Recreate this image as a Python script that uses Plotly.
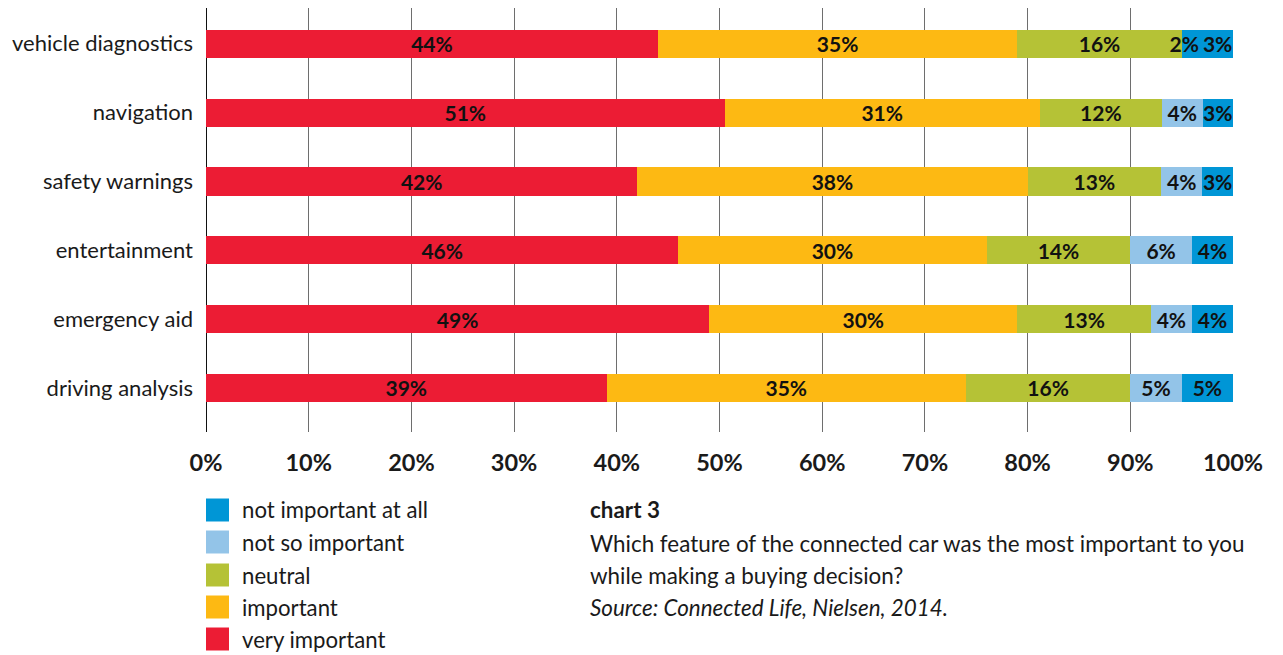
import plotly.graph_objects as go

categories = ["vehicle diagnostics", "navigation", "safety warnings",
              "entertainment", "emergency aid", "driving analysis"]
very_important = [44, 51, 42, 46, 49, 39]
important = [35, 31, 38, 30, 30, 35]
neutral = [16, 12, 13, 14, 13, 16]
not_so_important = [2, 4, 4, 6, 4, 5]
not_important_at_all = [3, 3, 3, 4, 4, 5]

series_names = ["very important", "important", "neutral",
                "not so important", "not important at all"]
series_values = [very_important, important, neutral,
                 not_so_important, not_important_at_all]
colors = ["#EC1C34", "#FDB913", "#B5C236", "#93C4E8", "#0096D6"]

x_ticks = [0, 10, 20, 30, 40, 50, 60, 70, 80, 90, 100]
x_ticklabels = [f"{t}%" for t in x_ticks]

FONT = "Lato, 'Open Sans', sans-serif"
TXT = "#1a1a1a"

OFF = 8  # page body margin
W, H = 1283 - OFF, 655 - OFF
L, R, T, B = 206 - OFF, 1233 - OFF, 8 - OFF, 432 - OFF

fig = go.Figure()
for name, vals, col in zip(series_names, series_values, colors):
    mcols = [col] * len(vals)
    labels = [f"{v}%" for v in vals]
    if name == "not so important":
        # in the source this thin segment is drawn in dark blue, label nudged left
        mcols[0] = colors[4]
        labels[0] = labels[0] + "\u00a0\u00a0\u00a0"
    fig.add_trace(go.Bar(
        y=categories, x=vals, name=name, orientation="h",
        marker=dict(color=mcols, line=dict(width=0)),
        text=labels,
        textposition="inside", insidetextanchor="middle",
        constraintext="none", textangle=0,
        textfont=dict(family=FONT, size=21, color="#111111", weight="bold"),
        showlegend=False, hoverinfo="x+y+name",
    ))

fig.update_layout(
    barmode="stack", barnorm="percent", bargap=0.59,
    width=W, height=H,
    margin=dict(l=L, r=W - R, t=T, b=H - B),
    paper_bgcolor="white", plot_bgcolor="white",
    font=dict(family=FONT, color=TXT),
    xaxis=dict(range=[0, 100], tickvals=x_ticks, ticktext=x_ticklabels,
               showgrid=True, gridcolor="#6e6e6e", gridwidth=1,
               zeroline=True, zerolinecolor="#111111", zerolinewidth=1,
               showline=False, ticks="", ticklabelstandoff=14,
               tickfont=dict(family=FONT, size=23.5, color=TXT, weight="bold")),
    yaxis=dict(categoryorder="array", categoryarray=categories,
               range=[5.64, -0.52], showgrid=False, zeroline=False,
               ticks="", ticklabelstandoff=12,
               tickfont=dict(family=FONT, size=22, color=TXT)),
)

def px(x):
    return (x - OFF - L) / (R - L)

def py(y):
    return (B - (y - OFF)) / (B - T)

# custom legend
legend_order = list(range(len(series_names)))[::-1]
row_y = [510, 542, 575, 607, 639]
shapes = []
annotations = []
for yy, i in zip(row_y, legend_order):
    shapes.append(dict(type="rect", xref="paper", yref="paper",
                       x0=px(206), x1=px(229), y0=py(yy - 11.5), y1=py(yy + 11.5),
                       fillcolor=colors[i], line=dict(width=0)))
    annotations.append(dict(xref="paper", yref="paper", x=px(240), y=py(yy),
                            xanchor="left", yanchor="middle", showarrow=False,
                            text=series_names[i],
                            font=dict(family=FONT, size=22.2, color=TXT)))

caption = ["<b>chart 3</b>",
           "Which feature of the connected car was the most important to you",
           "while making a buying decision?",
           "<i>Source: Connected Life, Nielsen, 2014.</i>"]
for yy, t in zip([510, 543, 575, 607], caption):
    annotations.append(dict(xref="paper", yref="paper", x=px(588), y=py(yy),
                            xanchor="left", yanchor="middle", showarrow=False,
                            text=t, font=dict(family=FONT, size=22.4, color=TXT)))

fig.update_layout(shapes=shapes, annotations=annotations)
fig.write_html("out.html")
